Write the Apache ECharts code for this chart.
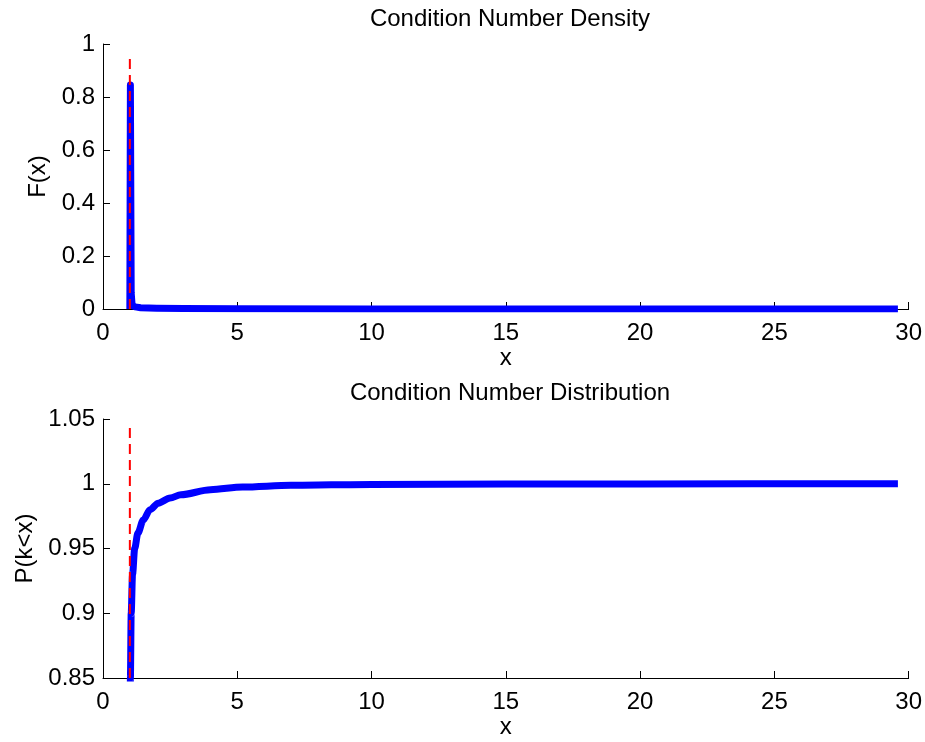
<!DOCTYPE html>
<html>
<head>
<meta charset="utf-8">
<script src="https://cdn.jsdelivr.net/npm/echarts@6/dist/echarts.min.js"></script>
<style>
  html, body { margin: 0; padding: 0; background: #fff; }
  #chart { width: 925px; height: 742px; }
</style>
</head>
<body>
<div id="chart"></div>
<script>
// density (top plot)
const densityX = [1.0, 1.02, 1.05, 1.08, 1.12, 1.2, 1.4, 2, 3, 5, 10, 20, 29.6];
const densityY = [0.0, 0.845, 0.06, 0.02, 0.012, 0.008, 0.005, 0.003, 0.0015, 0.0006, 0.0002, 0.0, 0.0];

// cumulative distribution (bottom plot)
const cdfX = [1.0, 1.02, 1.05, 1.1, 1.18, 1.3, 1.5, 1.75, 2.06, 2.5, 2.9, 4, 5.2, 7, 10, 15, 20, 29.6];
const cdfY = [0.7, 0.85, 0.9, 0.93, 0.95, 0.962, 0.972, 0.98, 0.985, 0.989, 0.9915, 0.9954, 0.9975, 0.9988, 0.9995, 0.9998, 0.9999, 1.0];

// red dashed reference line at x = 1
const refX = 1;
const refTopY = [0, 0.95];
const refBottomY = [0.85, 1.044];

const topTitle = 'Condition Number Density';
const bottomTitle = 'Condition Number Distribution';

const zip = (xs, ys) => xs.map((x, i) => [x, ys[i]]);
const font = 'Liberation Sans, Arial, sans-serif';
const fmt = v => String(parseFloat(v.toFixed(2)));

const axisCommon = {
  axisLine: { show: true, onZero: false, lineStyle: { color: '#000', width: 1 } },
  axisTick: { show: true, inside: true, length: 7, lineStyle: { color: '#000' } },
  splitLine: { show: false },
  nameTextStyle: { color: '#000', fontSize: 24, fontFamily: font },
  axisLabel: { color: '#000', fontSize: 24, fontFamily: font, formatter: fmt }
};

const chart = echarts.init(document.getElementById('chart'));
chart.setOption({
  animation: false,
  backgroundColor: '#fff',
  title: [
    { text: topTitle, left: 505, textAlign: 'center', top: 2,
      textStyle: { color: '#000', fontSize: 24, fontWeight: 'normal', fontFamily: font } },
    { text: bottomTitle, left: 505, textAlign: 'center', top: 376,
      textStyle: { color: '#000', fontSize: 24, fontWeight: 'normal', fontFamily: font } }
  ],
  grid: [
    { left: 103, right: 16, top: 44, height: 265 },
    { left: 103, right: 16, top: 419, height: 259 }
  ],
  xAxis: [0, 1].map(i => Object.assign({}, axisCommon, {
    type: 'value', gridIndex: i, min: 0, max: 30, interval: 5,
    name: 'x', nameLocation: 'middle', nameGap: 35,
    axisLabel: Object.assign({}, axisCommon.axisLabel, { margin: 12 })
  })),
  yAxis: [
    Object.assign({}, axisCommon, {
      type: 'value', gridIndex: 0, min: 0, max: 1, interval: 0.2,
      name: 'F(x)', nameLocation: 'middle', nameGap: 52,
      axisLabel: Object.assign({}, axisCommon.axisLabel, { margin: 8 })
    }),
    Object.assign({}, axisCommon, {
      type: 'value', gridIndex: 1, min: 0.85, max: 1.05, interval: 0.05,
      name: 'P(k<x)', nameLocation: 'middle', nameGap: 52,
      axisLabel: Object.assign({}, axisCommon.axisLabel, { margin: 8 })
    })
  ],
  series: [
    { type: 'line', xAxisIndex: 0, yAxisIndex: 0, data: zip(densityX, densityY),
      showSymbol: false, lineStyle: { color: '#0000ff', width: 7, join: 'round' } },
    { type: 'line', xAxisIndex: 0, yAxisIndex: 0, data: refTopY.map(y => [refX, y]),
      showSymbol: false, lineStyle: { color: '#ff0000', width: 2, type: [10, 6] } },
    { type: 'line', xAxisIndex: 1, yAxisIndex: 1, data: zip(cdfX, cdfY),
      showSymbol: false, smooth: 0.3, smoothMonotone: 'x',
      lineStyle: { color: '#0000ff', width: 7, join: 'round' } },
    { type: 'line', xAxisIndex: 1, yAxisIndex: 1, data: refBottomY.map(y => [refX, y]),
      showSymbol: false, lineStyle: { color: '#ff0000', width: 2, type: [10, 6] } }
  ]
});
</script>
</body>
</html>
